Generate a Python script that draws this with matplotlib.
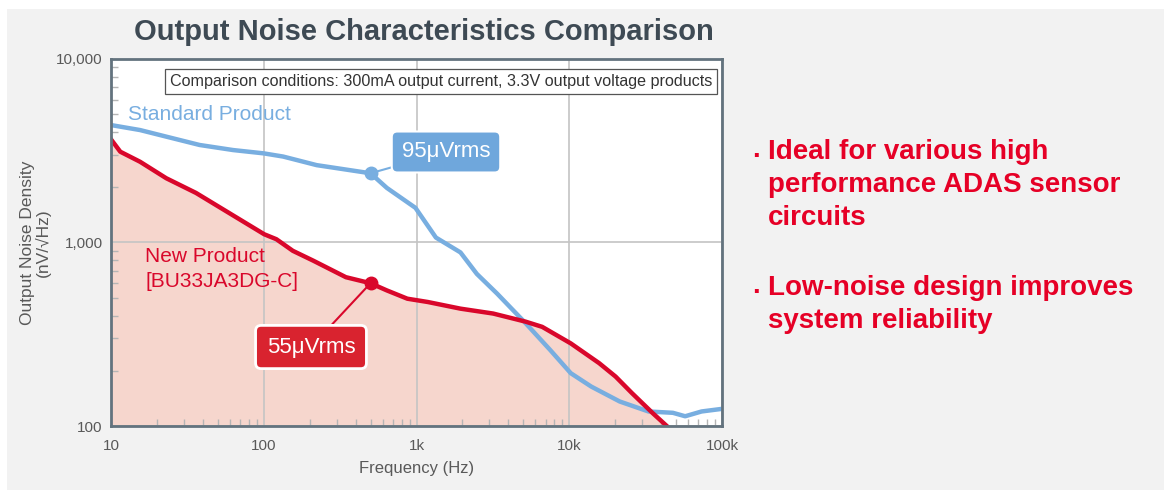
import numpy as np
import matplotlib
matplotlib.use("Agg")
import matplotlib.pyplot as plt
from matplotlib.patches import Rectangle
from matplotlib.ticker import FixedLocator, LogLocator, NullFormatter

plt.rcParams['font.family'] = ['Liberation Sans', 'DejaVu Sans']

# data (frequency in Hz, noise density in nV/sqrt(Hz))
std_freq = [10, 15.5, 23, 38, 63, 100, 134, 222, 500, 640, 984, 1340, 1940,
            2484, 3375, 5200, 7520, 10230, 13930, 21400, 33000, 47700,
            57400, 73500, 100000]
std_noise = [4365, 4100, 3775, 3400, 3190, 3060, 2940, 2640, 2384, 1983,
             1545, 1064, 883, 674, 526, 362, 259, 194, 164, 136, 120, 118,
             113, 120, 124]

new_freq = [10, 11.5, 15.5, 23, 36, 61.5, 100.7, 121, 155, 211, 345, 500,
            640, 871, 1185, 1940, 3177, 5200, 6650, 10230, 15700, 20100,
            25750, 35000, 43500]
new_noise = [3650, 3125, 2754, 2240, 1863, 1422, 1109, 1042, 901, 796, 647,
             600, 548, 494, 474, 436, 410, 370, 347, 282, 220, 186, 151,
             118, 100]

x_ticks = [10, 100, 1000, 10000, 100000]
x_labels = ['10', '100', '1k', '10k', '100k']
y_ticks = [100, 1000, 10000]
y_labels = ['100', '1,000', '10,000']

BLUE = '#78aee0'
RED = '#d9072b'
FILL = '#f6d6cd'
GRAY_TXT = '#595959'
SPINE = '#63737e'

W, H = 1164, 490
fig = plt.figure(figsize=(W / 100, H / 100), dpi=100)
fig.patch.set_facecolor('white')
fig.patches.append(Rectangle((7 / W, 0), 1 - 7 / W, 1 - 9 / H,
                             transform=fig.transFigure, facecolor='#f2f2f2',
                             edgecolor='none', zorder=-10))

ax = fig.add_axes([111 / W, 64 / H, 611 / W, 367 / H])
ax.set_facecolor('white')
ax.set_xscale('log')
ax.set_yscale('log')
ax.set_xlim(10, 100000)
ax.set_ylim(100, 10000)

ax.fill_between(new_freq, new_noise, 100, color=FILL, lw=0, zorder=1)
ax.plot(std_freq, std_noise, color=BLUE, lw=3.2, zorder=3)
ax.plot(new_freq, new_noise, color=RED, lw=3.2, zorder=4)

ax.xaxis.set_major_locator(FixedLocator(x_ticks))
ax.set_xticklabels(x_labels)
ax.yaxis.set_major_locator(FixedLocator(y_ticks))
ax.set_yticklabels(y_labels)
ax.xaxis.set_minor_locator(LogLocator(base=10, subs=np.arange(2, 10)))
ax.yaxis.set_minor_locator(LogLocator(base=10, subs=np.arange(2, 10)))
ax.xaxis.set_minor_formatter(NullFormatter())
ax.yaxis.set_minor_formatter(NullFormatter())
ax.grid(True, which='major', color='#c4c4c4', lw=1.2, zorder=2)
ax.tick_params(axis='x', which='major', length=0, labelsize=11,
               colors=GRAY_TXT, pad=9)
ax.tick_params(axis='y', which='major', length=0, labelsize=11,
               colors=GRAY_TXT, pad=6)
ax.tick_params(which='minor', direction='in', length=5, color='#b5b5b5',
               width=1)
for s in ax.spines.values():
    s.set_color(SPINE)
    s.set_linewidth(2)
    s.set_zorder(6)

ax.set_xlabel('Frequency (Hz)', fontsize=12, color=GRAY_TXT, labelpad=6)
fig.text(35.5 / W, 1 - 243 / H, 'Output Noise Density\n(nV/√Hz)',
         rotation=90, ha='center', va='center', fontsize=12.5,
         color=GRAY_TXT, linespacing=1.05, multialignment='center')

fig.text(424 / W, 1 - 32 / H, 'Output Noise Characteristics Comparison',
         ha='center', va='center', fontsize=21, fontweight='bold',
         color='#3e4a54')

ax.text(0.984, 0.938, 'Comparison conditions: 300mA output current, '
        '3.3V output voltage products', transform=ax.transAxes,
        ha='right', va='center', fontsize=11.6, color='#333333', zorder=7,
        bbox=dict(boxstyle='square,pad=0.3', fc='white', ec='#555555',
                  lw=0.9))

ax.text(0.028, 0.848, 'Standard Product', transform=ax.transAxes,
        fontsize=15, color=BLUE, va='center', ha='left', zorder=7)
ax.text(0.056, 0.428, 'New Product\n[BU33JA3DG-C]', transform=ax.transAxes,
        fontsize=15, color=RED, va='center', ha='left', zorder=7,
        linespacing=1.35)

# markers and callouts at 500 Hz
ax.plot([500], [2384], 'o', color=BLUE, ms=9, zorder=8)
ax.plot([500], [600], 'o', color=RED, ms=9, zorder=8)
ax.annotate('95μVrms', xy=(500, 2384), xytext=(446 / W, 1 - 152 / H),
            textcoords='figure fraction', ha='center', va='center',
            fontsize=16, color='white', zorder=9,
            bbox=dict(boxstyle='round,pad=0.45,rounding_size=0.25',
                      fc='#6fa7dc', ec='white', lw=1.5),
            arrowprops=dict(arrowstyle='-', color=BLUE, lw=1.5,
                            shrinkA=0, shrinkB=0))
ax.annotate('55μVrms', xy=(500, 600), xytext=(311 / W, 1 - 347 / H),
            textcoords='figure fraction', ha='center', va='center',
            fontsize=16, color='white', zorder=9,
            bbox=dict(boxstyle='round,pad=0.5,rounding_size=0.25',
                      fc='#d9232f', ec='white', lw=2),
            arrowprops=dict(arrowstyle='-', color=RED, lw=1.5,
                            shrinkA=0, shrinkB=0))

# bullet points on the right
bullets = [('Ideal for various high\nperformance ADAS sensor\ncircuits', 150),
           ('Low-noise design improves\nsystem reliability', 286)]
for txt, yline in bullets:
    fig.text(757 / W, 1 - (yline + 7) / H, '·', ha='center', va='center',
             fontsize=20, fontweight='bold', color='#e60026')
    fig.text(768 / W, 1 - (yline - 11) / H, txt, ha='left', va='top',
             fontsize=20, fontweight='bold', color='#e60026',
             linespacing=1.36)

fig.savefig('out.png', dpi=100, facecolor=fig.get_facecolor())
